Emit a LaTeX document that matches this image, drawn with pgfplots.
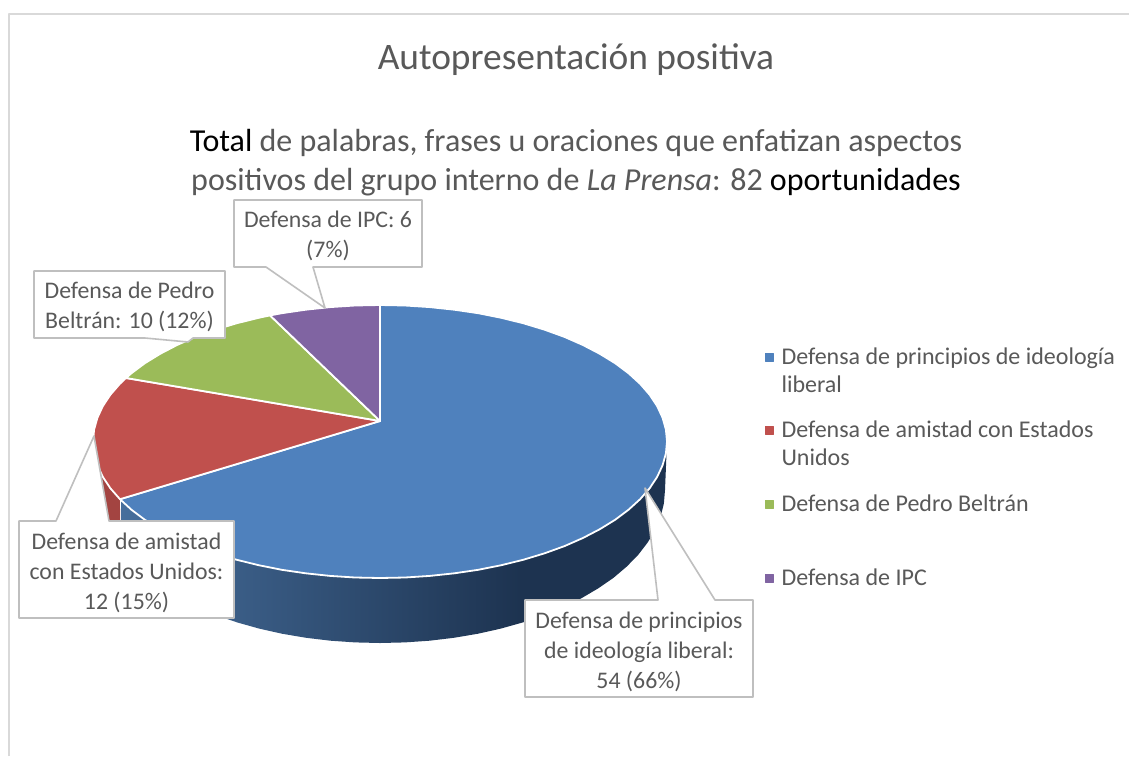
\documentclass[border=0pt]{standalone}
\usepackage{pgfplots}
\pgfplotsset{compat=1.18}
\usepackage{fontspec}
\setmainfont{Carlito}
\definecolor{tx}{HTML}{595959}
\definecolor{bx}{HTML}{BFBFBF}
\definecolor{fr}{HTML}{D9D9D9}
\definecolor{sb}{HTML}{4F81BD}
\definecolor{sr}{HTML}{C0504D}
\definecolor{sg}{HTML}{9BBB59}
\definecolor{sp}{HTML}{8064A2}
\definecolor{sideA}{RGB}{70,110,156}
\definecolor{sideB}{RGB}{29,51,80}
\pgfdeclarehorizontalshading{sideshade}{100bp}{color(0bp)=(sideA); color(25bp)=(sideA); color(61.5bp)=(sideB); color(100bp)=(sideB)}
\begin{document}
\begin{tikzpicture}
\begin{axis}[scale only axis,width=1129pt,height=756pt,xmin=0,xmax=1129,ymin=0,ymax=756,y dir=reverse,hide axis,clip=true,
  every axis plot/.append style={line join=round}]
% page background
\addplot[fill=white,draw=none,forget plot] coordinates {(0,0)(1129,0)(1129,756)(0,756)} -- cycle;
% frame
\addplot[fr,line width=1.5pt,forget plot] coordinates {(9,756)(9,14)(1129,14)};
% blue side
\addplot[draw=none,forget plot,shade,shading=sideshade] coordinates {
(121,499)(131.5,509.75)(144.9,519.8)(160.2,529.2)(177.1,538)(195.5,546.1)(215.4,553.3)(236.5,559.7)(258.7,565.2)(281.8,569.8)(305.7,573.3)(330.2,575.9)(355,577.5)(380,578)(405,577.5)(429.8,575.9)(454.3,573.3)(478.2,569.8)(501.3,565.2)(523.5,559.7)(544.6,553.3)(564.5,546.1)(582.9,538)(599.8,529.2)(615.1,519.8)(628.5,509.75)(640.1,499.2)(649.7,488.2)(657.2,476.8)(662.6,465.2)(665.9,453.4)(667,441.5)
(665,490)(663.9,503.3)(660.7,516.6)(655.3,529.6)(647.8,542.3)(638.3,554.7)(626.8,566.5)(613.5,577.8)(598.3,588.3)(581.5,598.2)(563.2,607.2)(543.5,615.3)(522.5,622.5)(500.4,628.7)(477.5,633.8)(453.8,637.8)(429.5,640.7)(404.8,642.4)(380,643)(355.2,642.4)(330.5,640.7)(306.2,637.8)(282.5,633.8)(259.6,628.7)(237.5,622.5)(216.5,615.3)(196.8,607.2)(178.5,598.2)(161.7,588.3)(146.5,577.8)(133.2,566.5)(121.7,554.7)
} -- cycle;
% red side
\addplot[fill={rgb,255:red,163;green,68;blue,65},draw=none,forget plot] coordinates {
(94,440)(97.4,465.2)(102.8,476.8)(110.3,488.2)(119.9,499.2)(120.5,556)(113,545)} -- cycle;
% top slices
\addplot[fill=sb,draw=white,line width=1.8pt,forget plot] coordinates {
(380,421)(380,305)(405,305.5)(429.8,307.1)(454.3,309.7)(478.2,313.2)(501.3,317.8)(523.5,323.3)(544.6,329.7)(564.5,336.9)(582.9,345)(599.8,353.8)(615.1,363.2)(628.5,373.2)(640.1,383.8)(649.7,394.8)(657.2,406.2)(662.6,417.8)(665.9,429.6)(667,441.5)(665.9,453.4)(662.6,465.2)(657.2,476.8)(649.7,488.2)(640.1,499.2)(628.5,509.75)(615.1,519.8)(599.8,529.2)(582.9,538)(564.5,546.1)(544.6,553.3)(523.5,559.7)(501.3,565.2)(478.2,569.8)(454.3,573.3)(429.8,575.9)(405,577.5)(380,578)(355,577.5)(330.2,575.9)(305.7,573.3)(281.8,569.8)(258.7,565.2)(236.5,559.7)(215.4,553.3)(195.5,546.1)(177.1,538)(160.2,529.2)(144.9,519.8)(131.5,509.75)(120,499.2)} -- cycle;
\addplot[fill=sr,draw=white,line width=1.8pt,forget plot] coordinates {
(380,421)(120,499.2)(110.3,488.2)(102.8,476.8)(97.4,465.2)(94.1,453.4)(93,441.5)(94.1,429.6)(97.4,417.8)(102.8,406.2)(110.3,394.8)(119.9,383.8)(126,378)} -- cycle;
\addplot[fill=sg,draw=white,line width=1.8pt,forget plot] coordinates {
(380,421)(126,378)(131.5,373.2)(144.9,363.2)(160.2,353.8)(177.1,345)(195.5,336.9)(215.4,329.7)(236.5,323.3)(258.7,317.8)(270,315.4)} -- cycle;
\addplot[fill=sp,draw=white,line width=1.8pt,forget plot] coordinates {
(380,421)(270,315.4)(281.8,313.2)(305.7,309.7)(330.2,307.1)(355,305.5)(380,305)} -- cycle;
% callouts
\addplot[fill=white,draw=bx,line width=1.6pt,forget plot] coordinates {
(234,200)(422,200)(422,267)(313,267)(325,308)(266,267)(234,267)} -- cycle;
\addplot[fill=white,draw=bx,line width=1.6pt,forget plot] coordinates {
(34,271)(225,271)(225,338)(193,338)(188,342)(145,338)(34,338)} -- cycle;
\addplot[fill=white,draw=bx,line width=1.6pt,forget plot] coordinates {
(19,521)(56,521)(94,436)(109,521)(234,521)(234,618)(19,618)} -- cycle;
\addplot[fill=white,draw=bx,line width=1.6pt,forget plot] coordinates {
(525,600)(658,600)(645,488)(715,600)(753,600)(753,697)(525,697)} -- cycle;
% legend markers
\addplot[only marks,mark=square*,mark size=3.8pt,mark options={fill=sb,draw=sb},forget plot] coordinates {(769,357)};
\addplot[only marks,mark=square*,mark size=3.8pt,mark options={fill=sr,draw=sr},forget plot] coordinates {(769,430)};
\addplot[only marks,mark=square*,mark size=3.8pt,mark options={fill=sg,draw=sg},forget plot] coordinates {(769,504)};
\addplot[only marks,mark=square*,mark size=3.8pt,mark options={fill=sp,draw=sp},forget plot] coordinates {(769,578)};
% texts
\node[tx,font=\fontsize{37.4}{44}\selectfont,anchor=center] at (axis cs:576,60) {Autopresentación positiva};
\node[tx,font=\fontsize{32}{39}\selectfont,align=center,anchor=center] at (axis cs:576,163) {\textcolor{black}{Total} de palabras, frases u oraciones que enfatizan aspectos\\positivos del grupo interno de \textit{La Prensa}: 82 \textcolor{black}{oportunidades}};
\node[tx,font=\fontsize{23.8}{30}\selectfont,align=center] at (axis cs:328,236) {Defensa de IPC: 6\\(7\%)};
\node[tx,font=\fontsize{23.8}{30}\selectfont,align=center] at (axis cs:129.5,307) {Defensa de Pedro\\Beltrán: 10 (12\%)};
\node[tx,font=\fontsize{23.8}{30}\selectfont,align=center] at (axis cs:126.5,572.5) {Defensa de amistad\\con Estados Unidos:\\12 (15\%)};
\node[tx,font=\fontsize{23.8}{30}\selectfont,align=center] at (axis cs:639,651.5) {Defensa de principios\\de ideología liberal:\\54 (66\%)};
\node[tx,font=\fontsize{24}{28}\selectfont,align=left,anchor=west] at (axis cs:778,370.5) {Defensa de principios de ideología\\liberal};
\node[tx,font=\fontsize{24}{28}\selectfont,align=left,anchor=west] at (axis cs:778,443.5) {Defensa de amistad con Estados\\Unidos};
\node[tx,font=\fontsize{24}{28}\selectfont,align=left,anchor=west] at (axis cs:778,503.5) {Defensa de Pedro Beltrán};
\node[tx,font=\fontsize{24}{28}\selectfont,align=left,anchor=west] at (axis cs:778,577.5) {Defensa de IPC};
\end{axis}
\end{tikzpicture}
\end{document}
